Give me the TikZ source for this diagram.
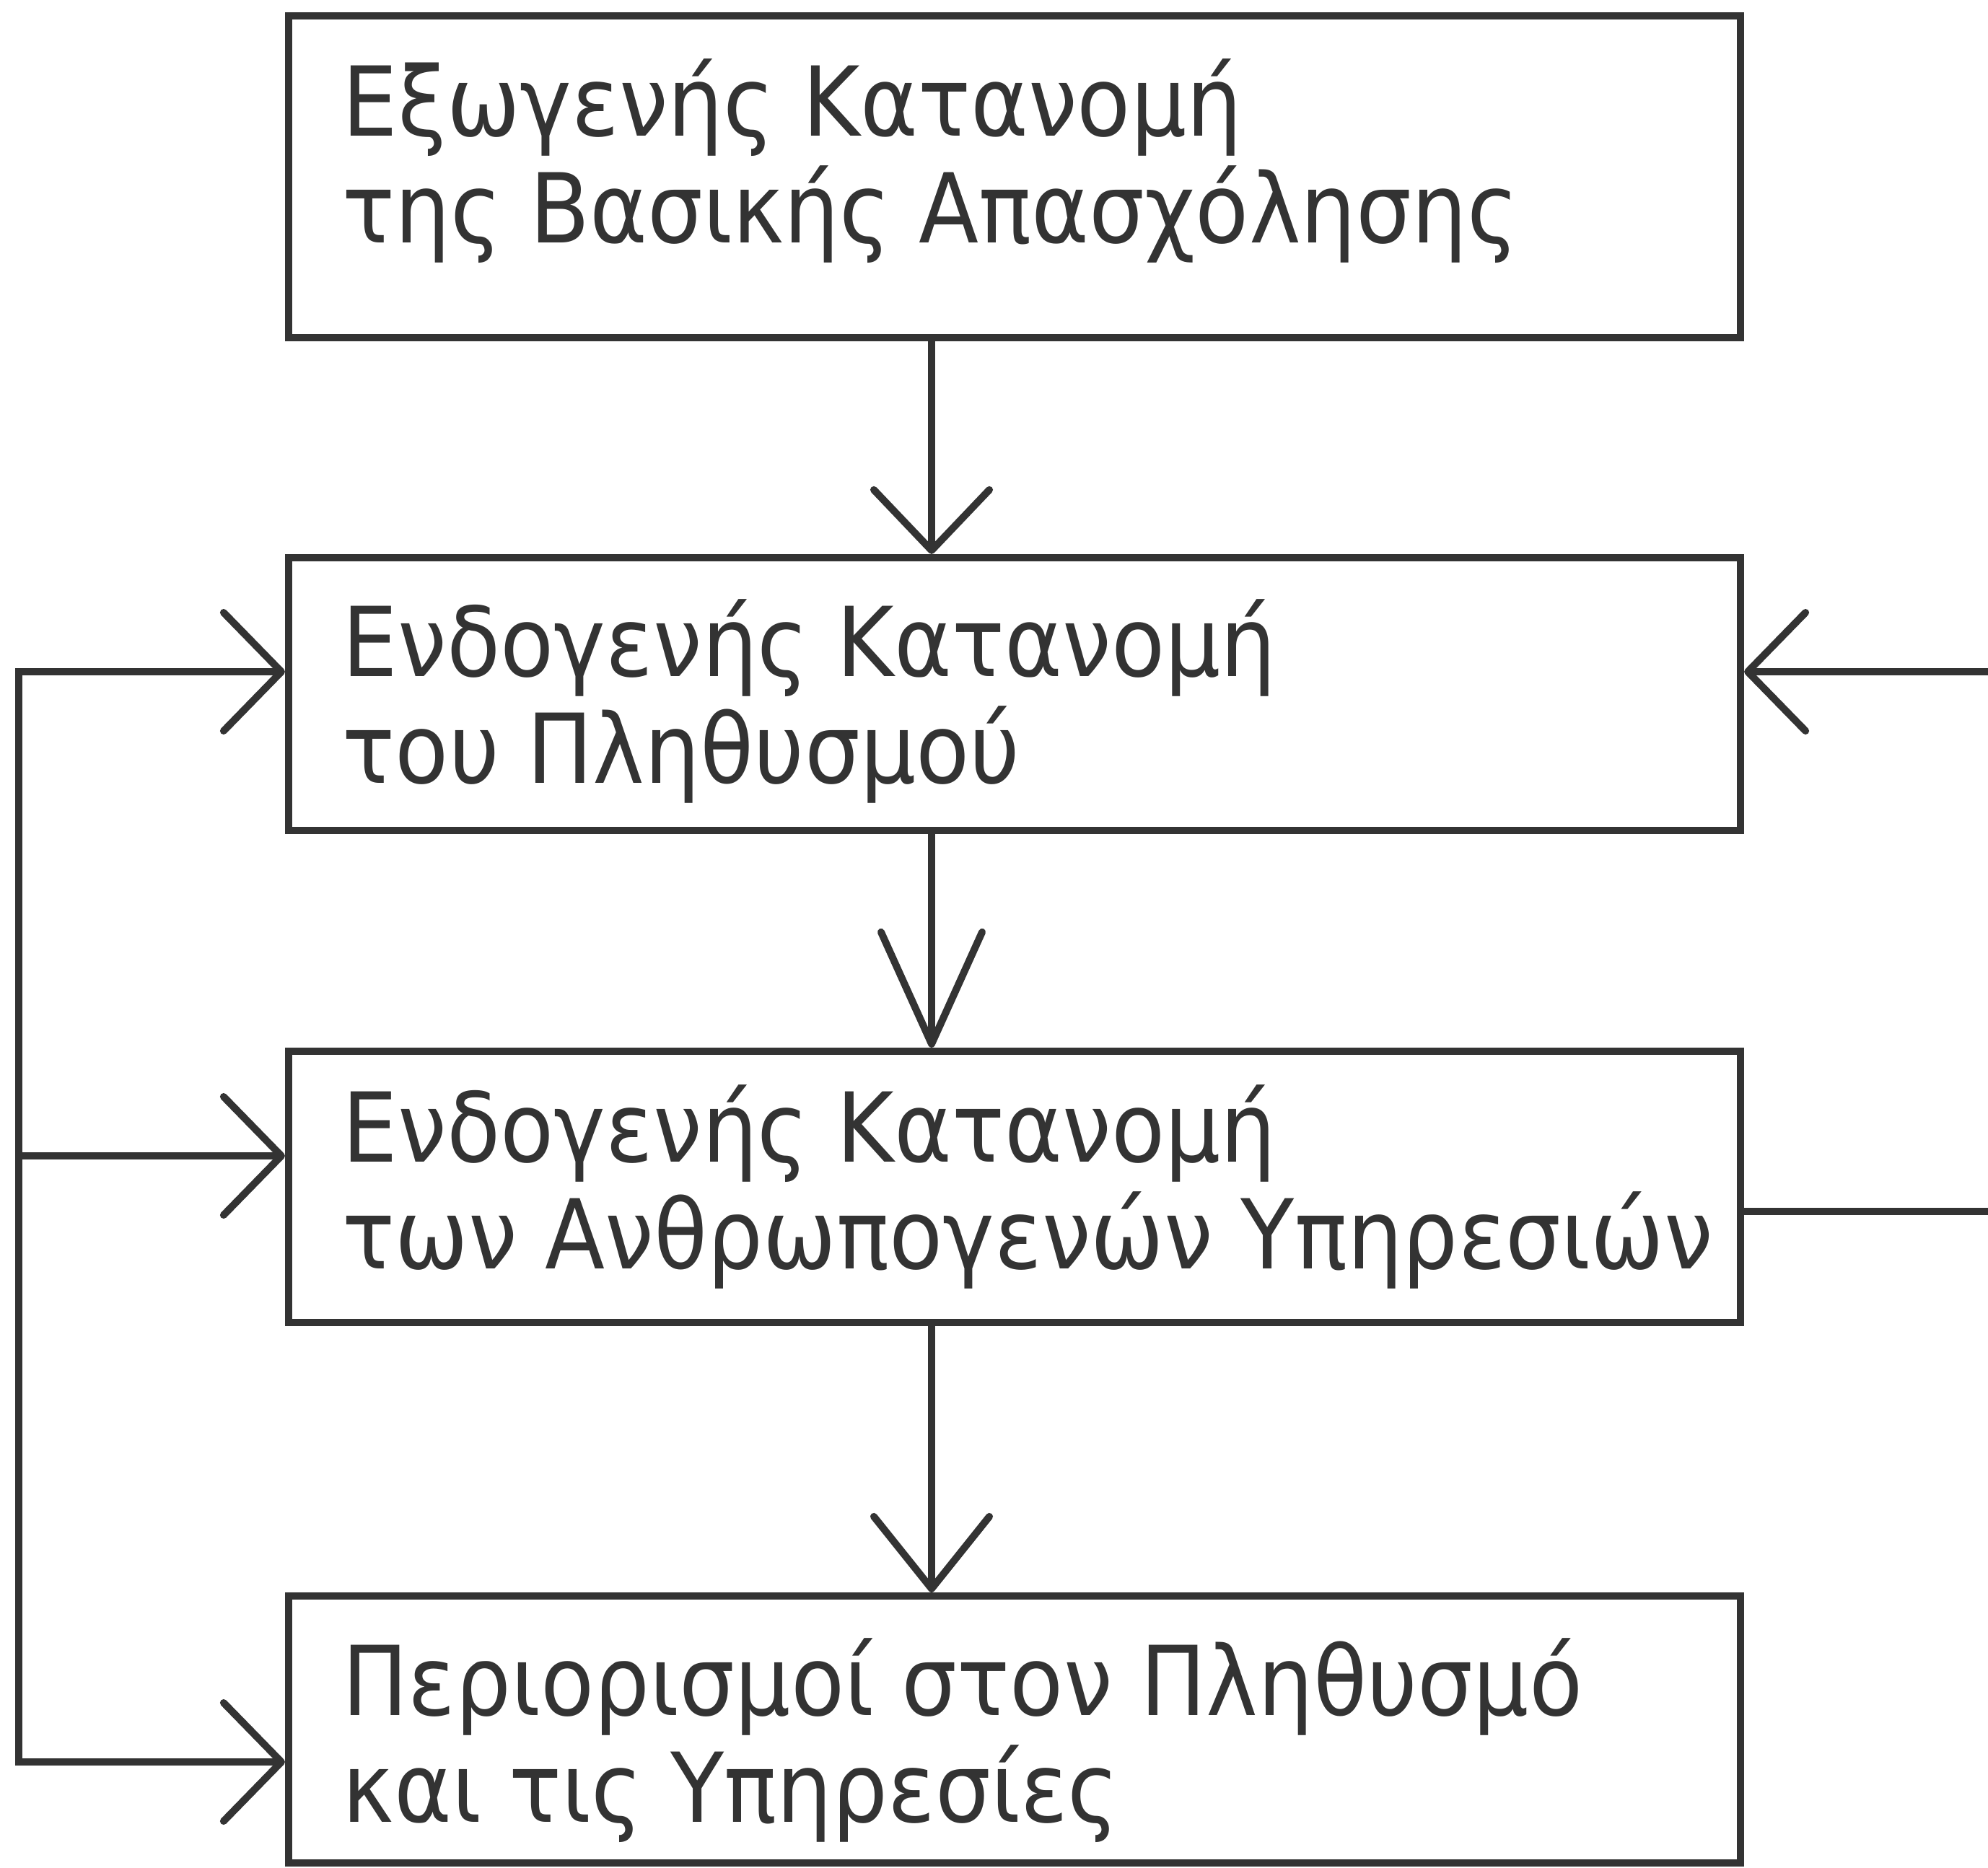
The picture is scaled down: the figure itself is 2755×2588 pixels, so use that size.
\documentclass[tikz,border=0pt]{standalone}
\usepackage{fontspec}
\setmainfont{DejaVu Sans}[FakeStretch=0.908]
\usetikzlibrary{arrows.meta}
\definecolor{ink}{HTML}{333333}
\begin{document}
\begin{tikzpicture}[x=0.01cm,y=-0.01cm,
  box/.style={draw=ink, line width=10*0.01cm, rectangle, inner sep=0pt,
    minimum width=20.11cm},
  txt/.style={text=ink, align=left, anchor=base west, inner sep=0pt,
    font=\fontsize{38}{42}\selectfont},
  conn/.style={draw=ink, line width=10*0.01cm, line cap=round},
  tipA/.style={-{Straight Barb[length=0.84cm,width=1.6cm,round]}},
  tipB/.style={-{Straight Barb[length=1.55cm,width=1.4cm,round]}},
  tipC/.style={-{Straight Barb[length=1.0cm,width=1.6cm,round]}},
  tipL/.style={-{Straight Barb[length=0.8cm,width=1.64cm,round]}}
]
\useasboundingbox (0,0) rectangle (2755,2588);
\node[box, minimum height=4.46cm] (b1) at (1406,245) {};
\node[box, minimum height=3.78cm] (b2) at (1406,962) {};
\node[box, minimum height=3.76cm] (b3) at (1406,1645) {};
\node[box, minimum height=3.70cm] (b4) at (1406,2397) {};
% base anchor of a two-line node lies on its second line
\node[txt] (t1) at (474,336) {Εξωγενής Κατανομή\\της Βασικής Απασχόλησης};
\node[txt] (t2) at (474,1085) {Ενδογενής Κατανομή\\του Πληθυσμού};
\node[txt] (t3) at (474,1758) {Ενδογενής Κατανομή\\των Ανθρωπογενών Υπηρεσιών};
\node[txt] (t4) at (474,2525) {Περιορισμοί στον Πληθυσμό\\και τις Υπηρεσίες};
\coordinate (ax) at (1291,0);
\coordinate (lt) at (26,931);
\coordinate (lm) at (26,1602);
\coordinate (lb) at (26,2442);
\coordinate (rt) at (2790,931);
\coordinate (rm) at (2790,1679);
\draw[conn,tipA] (b1.south -| ax) -- (b2.north -| ax);
\draw[conn,tipB] (b2.south -| ax) -- (b3.north -| ax);
\draw[conn,tipC] (b3.south -| ax) -- (b4.north -| ax);
\draw[conn,line join=miter,{Straight Barb[length=0.8cm,width=1.64cm,round]}-{Straight Barb[length=0.8cm,width=1.64cm,round]}] (lb -| b4.west) -- (lb) -- (lt) -- (lt -| b2.west);
\draw[conn,tipL] (lm) -- (lm -| b3.west);
\draw[conn] (rm -| b3.east) -- (rm);
\draw[conn,tipL] (rt) -- (rt -| b2.east);
\end{tikzpicture}
\end{document}
